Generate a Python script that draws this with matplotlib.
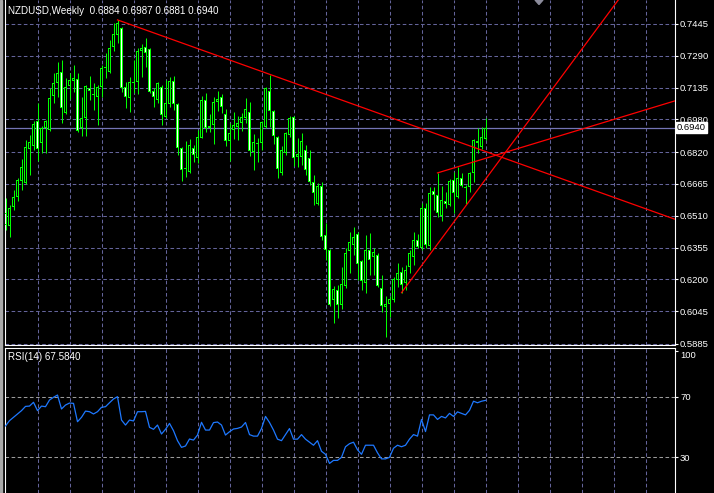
import matplotlib
matplotlib.use("Agg")
import matplotlib.pyplot as plt
import matplotlib.transforms as mtransforms
from matplotlib.patches import Polygon, Rectangle

plt.rcParams["font.family"] = ["Liberation Sans", "DejaVu Sans"]
plt.rcParams["lines.scale_dashes"] = False

symbol_title = "NZDUSD,Weekly  0.6884 0.6987 0.6881 0.6940"
rsi_title = "RSI(14) 67.5840"

opens = [0.6524, 0.6460, 0.6553, 0.6602, 0.6680, 0.6670, 0.6836, 0.6850, 0.6972, 0.6865,
         0.6938, 0.6928, 0.7094, 0.7157, 0.7211, 0.7011, 0.7143, 0.7167, 0.7177, 0.6938,
         0.6987, 0.7133, 0.7099, 0.7089, 0.7138, 0.7231, 0.7211, 0.7333, 0.7391, 0.7425,
         0.7138, 0.7084, 0.7162, 0.7162, 0.7313, 0.7333, 0.7323, 0.7118, 0.7075, 0.7138,
         0.6992, 0.7055, 0.7167, 0.7055, 0.6841, 0.6738, 0.6724, 0.6841, 0.6792, 0.6889,
         0.7075, 0.6938, 0.6953, 0.7065, 0.7089, 0.7006, 0.6875, 0.6928, 0.6943, 0.6962,
         0.6987, 0.7016, 0.6821, 0.6860, 0.6865, 0.6943, 0.7118, 0.7021, 0.6894, 0.6719,
         0.6816, 0.6904, 0.6992, 0.6797, 0.6797, 0.6831, 0.6792, 0.6675, 0.6568, 0.6655,
         0.6416, 0.6343, 0.6100, 0.6148, 0.6075, 0.6168, 0.6338, 0.6368, 0.6421, 0.6290,
         0.6182, 0.6343, 0.6309, 0.6319, 0.6158, 0.6065, 0.6080, 0.6100, 0.6197, 0.6236,
         0.6182, 0.6260, 0.6309, 0.6392, 0.6353, 0.6548, 0.6363, 0.6631, 0.6611, 0.6509,
         0.6582, 0.6563, 0.6685, 0.6602, 0.6694, 0.6646, 0.6650, 0.6719, 0.6875, 0.6845,
         0.6884]
highs = [0.6597, 0.6563, 0.6636, 0.6694, 0.6787, 0.6880, 0.6904, 0.6972, 0.7060, 0.6948,
         0.6975, 0.7133, 0.7206, 0.7260, 0.7270, 0.7182, 0.7206, 0.7245, 0.7206, 0.7089,
         0.7148, 0.7192, 0.7157, 0.7148, 0.7245, 0.7304, 0.7367, 0.7450, 0.7465, 0.7430,
         0.7162, 0.7187, 0.7270, 0.7328, 0.7348, 0.7377, 0.7328, 0.7133, 0.7162, 0.7148,
         0.7172, 0.7187, 0.7192, 0.7060, 0.6845, 0.6875, 0.6884, 0.6855, 0.6928, 0.7094,
         0.7109, 0.7006, 0.7089, 0.7118, 0.7104, 0.7031, 0.6962, 0.7016, 0.6997, 0.7011,
         0.7084, 0.7065, 0.6909, 0.6889, 0.6972, 0.7138, 0.7196, 0.7026, 0.6899, 0.6850,
         0.6919, 0.6997, 0.6997, 0.6889, 0.6914, 0.6855, 0.6831, 0.6709, 0.6670, 0.6675,
         0.6475, 0.6348, 0.6168, 0.6173, 0.6260, 0.6353, 0.6431, 0.6455, 0.6431, 0.6295,
         0.6416, 0.6426, 0.6353, 0.6329, 0.6221, 0.6119, 0.6119, 0.6212, 0.6280, 0.6260,
         0.6270, 0.6343, 0.6431, 0.6421, 0.6572, 0.6572, 0.6650, 0.6650, 0.6719, 0.6655,
         0.6626, 0.6689, 0.6724, 0.6748, 0.6719, 0.6660, 0.6724, 0.6884, 0.6938, 0.6943,
         0.6987]
lows = [0.6441, 0.6407, 0.6538, 0.6582, 0.6636, 0.6665, 0.6709, 0.6831, 0.6777, 0.6816,
        0.6816, 0.6923, 0.7060, 0.7089, 0.6962, 0.7008, 0.7079, 0.7114, 0.6919, 0.6899,
        0.6899, 0.7075, 0.7026, 0.6953, 0.7089, 0.7182, 0.7206, 0.7313, 0.7352, 0.7114,
        0.7036, 0.7016, 0.7109, 0.7104, 0.7187, 0.7235, 0.7109, 0.7040, 0.7060, 0.6953,
        0.6987, 0.7040, 0.7026, 0.6806, 0.6680, 0.6699, 0.6719, 0.6772, 0.6767, 0.6887,
        0.6919, 0.6919, 0.6860, 0.7021, 0.7011, 0.6850, 0.6777, 0.6884, 0.6880, 0.6923,
        0.6962, 0.6802, 0.6733, 0.6772, 0.6831, 0.6938, 0.6943, 0.6860, 0.6694, 0.6709,
        0.6806, 0.6894, 0.6753, 0.6748, 0.6758, 0.6709, 0.6660, 0.6563, 0.6563, 0.6392,
        0.6295, 0.6070, 0.5987, 0.6012, 0.6056, 0.6158, 0.6231, 0.6319, 0.6197, 0.6148,
        0.6134, 0.6221, 0.6221, 0.6165, 0.6041, 0.5919, 0.6017, 0.6090, 0.6163, 0.6134,
        0.6148, 0.6231, 0.6270, 0.6353, 0.6343, 0.6353, 0.6343, 0.6538, 0.6504, 0.6485,
        0.6548, 0.6558, 0.6524, 0.6597, 0.6650, 0.6568, 0.6626, 0.6675, 0.6816, 0.6836,
        0.6881]
closes = [0.6465, 0.6548, 0.6602, 0.6685, 0.6748, 0.6845, 0.6870, 0.6958, 0.6836, 0.6938,
          0.6972, 0.7084, 0.7157, 0.7206, 0.7036, 0.7138, 0.7172, 0.7182, 0.6923, 0.6987,
          0.7143, 0.7118, 0.7104, 0.7138, 0.7231, 0.7235, 0.7328, 0.7396, 0.7450, 0.7133,
          0.7089, 0.7162, 0.7157, 0.7313, 0.7328, 0.7304, 0.7114, 0.7089, 0.7157, 0.7001,
          0.7060, 0.7167, 0.7055, 0.6841, 0.6733, 0.6743, 0.6855, 0.6806, 0.6894, 0.7075,
          0.6938, 0.6948, 0.7065, 0.7079, 0.7040, 0.6875, 0.6914, 0.6953, 0.6962, 0.6992,
          0.7031, 0.6826, 0.6870, 0.6865, 0.6967, 0.7133, 0.7021, 0.6899, 0.6738, 0.6831,
          0.6914, 0.6987, 0.6792, 0.6811, 0.6875, 0.6733, 0.6675, 0.6621, 0.6655, 0.6407,
          0.6343, 0.6075, 0.6153, 0.6075, 0.6178, 0.6329, 0.6382, 0.6407, 0.6275, 0.6192,
          0.6343, 0.6295, 0.6334, 0.6168, 0.6070, 0.6080, 0.6104, 0.6202, 0.6231, 0.6173,
          0.6246, 0.6329, 0.6392, 0.6358, 0.6548, 0.6368, 0.6621, 0.6611, 0.6524, 0.6587,
          0.6568, 0.6680, 0.6621, 0.6694, 0.6655, 0.6650, 0.6719, 0.6880, 0.6865, 0.6894,
          0.6940]

rsi = [50.7, 54.2, 56.4, 58.6, 60.8, 63.6, 63.8, 66.3, 60.8, 63.8,
       63.4, 67.8, 69.6, 71.1, 61.9, 64.5, 65.8, 65.6, 53.5, 56.4,
       60.5, 60.1, 58.6, 60.1, 63.0, 63.4, 66.0, 68.5, 70.0, 54.6,
       51.3, 54.6, 54.0, 60.1, 60.1, 60.3, 49.8, 48.5, 51.3, 45.4,
       48.5, 52.4, 47.6, 41.0, 36.6, 37.5, 42.1, 41.4, 44.7, 53.1,
       48.0, 48.0, 52.9, 53.3, 51.3, 44.7, 46.9, 48.7, 49.1, 50.0,
       53.0, 45.0, 44.0, 44.0, 49.0, 57.0, 53.0, 48.0, 42.0, 41.0,
       45.0, 49.0, 42.0, 42.0, 45.0, 42.0, 40.0, 38.0, 41.0, 34.0,
       32.0, 26.0, 28.0, 28.0, 30.0, 37.0, 39.0, 40.0, 35.0, 32.0,
       38.0, 38.0, 38.0, 33.0, 29.0, 29.0, 30.0, 36.0, 38.0, 37.0,
       38.0, 42.0, 45.0, 44.0, 55.0, 47.0, 58.0, 58.0, 55.0, 57.0,
       56.0, 59.0, 57.0, 60.0, 59.0, 58.0, 61.0, 67.0, 66.0, 67.0,
       67.584]

price_ticks = [0.7445, 0.7290, 0.7135, 0.6980, 0.6820, 0.6665, 0.6510, 0.6355, 0.6200, 0.6045, 0.5885]
price_tick_labels = ["0.7445", "0.7290", "0.7135", "0.6980", "0.6820", "0.6665",
                     "0.6510", "0.6355", "0.6200", "0.6045", "0.5885"]
rsi_ticks = [100, 70, 30]
rsi_tick_labels = ["100", "70", "30"]
rsi_levels = [70, 30]
current_price = 0.6940
current_price_label = "0.6940"
trendlines = [((28, 0.7465), (66, 0.7200)),
              ((99, 0.6135), (120, 0.6688)),
              ((108, 0.6719), (120, 0.6790))]

# style
BG = "black"
CANDLE = "#00ff00"
GRID = "#64649a"
LEVEL = "#9a9a9a"
PRICE_LINE = "#7474b4"
RSI_COLOR = "#1e78ff"
DASH = (0, (2.6, 1.8))
FS = 6.8
PRICE_LIM = (0.5880, 0.7562)

n = len(closes)
xs = list(range(n))
xlim = (-0.25, 167.25)
vgrid = list(range(8, 168, 8))

fig = plt.figure(figsize=(7.14, 4.93), dpi=100, facecolor=BG)
W, H = 714.0, 493.0
ax = fig.add_axes([4.5 / W, 148 / H, 670 / W, 345 / H], facecolor=BG)
rax = fig.add_axes([4.5 / W, 0, 670 / W, 145 / H], facecolor=BG)

# left window frame
fig.patches.append(Rectangle((0, 0), 2.4 / W, 1, transform=fig.transFigure,
                             color="#a8a8a8", zorder=0))

for a in (ax, rax):
    a.set_xlim(*xlim)
    a.set_xticks(vgrid)
    a.tick_params(axis="x", length=0, labelbottom=False)
    for xv in vgrid:
        a.axvline(xv, color=GRID, lw=0.75, ls=DASH, zorder=0.5)
    for s in a.spines.values():
        s.set_color("white")
        s.set_linewidth(0.8)

# ---------------- main price panel
ax.set_ylim(*PRICE_LIM)
ax.spines["top"].set_visible(False)
ax.yaxis.tick_right()
ax.set_yticks(price_ticks)
ax.set_yticklabels(price_tick_labels)
ax.tick_params(axis="y", colors="white", labelcolor="white", length=2.5,
               width=0.8, labelsize=FS, pad=1.5)
for pv in price_ticks:
    ax.axhline(pv, color=GRID, lw=0.75, ls=DASH, zorder=0.5)

ax.axhline(current_price, color=PRICE_LINE, lw=0.9, zorder=0.8)

# candles: wick, lime outer body, inner fill (black = up, white = down)
px = (PRICE_LIM[1] - PRICE_LIM[0]) / 345.0   # one pixel in price units
ax.vlines(xs, lows, highs, color=CANDLE, lw=0.72, zorder=2)
bottoms = [min(o, c) for o, c in zip(opens, closes)]
heights = [max(abs(c - o), px) for o, c in zip(opens, closes)]
ax.bar(xs, heights, bottom=bottoms, width=0.75, color=CANDLE, linewidth=0, zorder=3)
inner_x, inner_b, inner_h, inner_c = [], [], [], []
for i, (o, c) in enumerate(zip(opens, closes)):
    h = abs(c - o) - 2 * px
    if h > 0:
        inner_x.append(i)
        inner_b.append(min(o, c) + px)
        inner_h.append(h)
        inner_c.append("black" if c >= o else "white")
ax.bar(inner_x, inner_h, bottom=inner_b, width=0.25, color=inner_c, linewidth=0, zorder=3.5)

# trend lines (rays to the right edge)
for (x1, y1), (x2, y2) in trendlines:
    slope = (y2 - y1) / (x2 - x1)
    xe = xlim[1]
    ax.plot([x1, xe], [y1, y1 + slope * (xe - x1)], color="red", lw=0.9, zorder=4)

# current price box
trans = mtransforms.blended_transform_factory(ax.transAxes, ax.transData)
ax.text(1.0035, current_price, current_price_label, transform=trans, va="center",
        ha="left", fontsize=FS, color="black", clip_on=False, zorder=10,
        bbox=dict(boxstyle="square,pad=0.12", fc="white", ec="white"))

fig.text(8 / W, 1 - 10.5 / H, symbol_title, color="white", fontsize=FS + 0.3,
         va="center", ha="left")

# small shift marker at top
fig.patches.append(Polygon([[535 / W, 1.0], [543 / W, 1.0], [539 / W, 1 - 4.5 / H]],
                           closed=True, transform=fig.transFigure, color="#8c8c9c", zorder=5))

# ---------------- RSI panel
rax.set_ylim(6.5, 102.1)
rax.spines["bottom"].set_visible(False)
rax.yaxis.tick_right()
rax.set_yticks(rsi_ticks)
rax.set_yticklabels(rsi_tick_labels)
rax.tick_params(axis="y", colors="white", labelcolor="white", length=2.5,
                width=0.8, labelsize=FS, pad=1.5)
rax.get_yticklabels()[0].set_va("top")
for lv in rsi_levels:
    rax.axhline(lv, color=LEVEL, lw=0.75, ls=DASH, zorder=0.5)
rax.plot(xs, rsi, color=RSI_COLOR, lw=0.9, zorder=3)
fig.text(8 / W, 1 - 357.5 / H, rsi_title, color="white", fontsize=FS + 0.3,
         va="center", ha="left")

fig.savefig("out.png", dpi=100, facecolor=BG)
